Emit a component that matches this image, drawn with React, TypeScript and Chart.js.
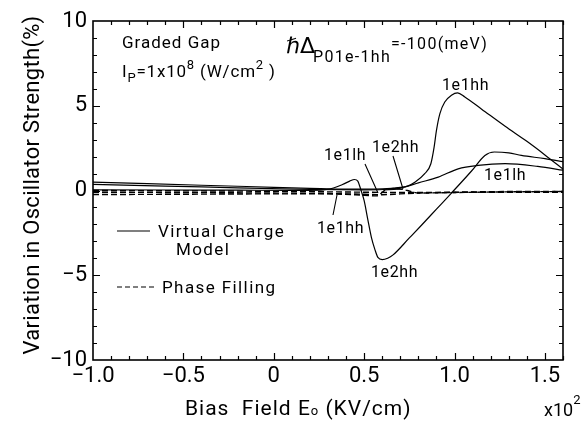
import React, { useEffect, useRef } from "react";
import { Chart, registerables } from "chart.js";

Chart.register(...registerables);

const FONT = 'Roboto, "DejaVu Sans", sans-serif';
const SYM_FONT = '"DejaVu Sans", sans-serif';

// Axis ticks
const xTickValues = [-1.0, -0.5, 0, 0.5, 1.0, 1.5];
const xTickLabels = ["−1.0", "−0.5", "0", "0.5", "1.0", "1.5"];
const yTickValues = [-10, -5, 0, 5, 10];
const yTickLabels = ["−10", "−5", "0", "5", "10"];

// Virtual Charge Model (solid)
const vc1e1hhX = [-1.0, -0.7, -0.4, -0.1, 0.2, 0.4, 0.6, 0.7, 0.74, 0.78, 0.835, 0.869, 0.887, 0.9, 0.919, 0.946, 0.983, 1.017, 1.057, 1.15, 1.28, 1.4, 1.5, 1.61];
const vc1e1hhY = [0.49, 0.4, 0.31, 0.22, 0.13, 0.08, 0.1, 0.18, 0.26, 0.49, 0.99, 1.58, 2.56, 3.55, 4.54, 5.22, 5.62, 5.76, 5.52, 4.8, 3.79, 2.9, 2.1, 1.18];

const vc1e2hhX = [-1.0, -0.6, -0.2, 0.1, 0.26, 0.33, 0.38, 0.42, 0.446, 0.465, 0.48, 0.5, 0.52, 0.54, 0.56, 0.576, 0.6, 0.63, 0.66, 0.75, 0.817, 0.9, 0.983, 1.094, 1.168, 1.22, 1.3, 1.37, 1.5, 1.61];
const vc1e2hhY = [0.04, 0.03, 0.02, 0.01, 0.02, 0.15, 0.35, 0.55, 0.65, 0.55, 0.1, -0.6, -1.7, -2.76, -3.5, -3.95, -4.08, -4.0, -3.8, -2.8, -2.05, -1.1, -0.15, 1.15, 2.07, 2.27, 2.22, 2.07, 1.88, 1.68];

const vc1e1lhX = [-1.0, -0.6, -0.2, 0.2, 0.5, 0.605, 0.72, 0.8, 0.91, 1.02, 1.13, 1.28, 1.46, 1.61];
const vc1e1lhY = [0.36, 0.26, 0.16, 0.06, 0.04, 0.06, 0.2, 0.45, 0.79, 1.28, 1.48, 1.58, 1.42, 1.18];

// Phase Filling (dashed)
const pf1e1hhX = [-1.0, -0.5, 0, 0.3, 0.5, 0.6, 0.7, 0.8, 1.0, 1.3, 1.61];
const pf1e1hhY = [-0.1, -0.12, -0.15, -0.18, -0.22, -0.25, -0.2, -0.15, -0.1, -0.06, -0.05];

const pf1e2hhX = [-1.0, -0.5, 0, 0.3, 0.5, 0.57, 0.62, 0.68, 0.74, 0.8, 1.0, 1.3, 1.61];
const pf1e2hhY = [-0.24, -0.22, -0.2, -0.2, -0.28, -0.32, 0.05, 0.12, 0.0, -0.15, -0.12, -0.08, -0.06];

const pf1e1lhX = [-1.0, -0.5, 0, 0.5, 0.7, 0.9, 1.2, 1.61];
const pf1e1lhY = [0.0, -0.02, -0.05, -0.1, -0.12, -0.12, -0.1, -0.1];

const pts = (xs: number[], ys: number[]) => xs.map((x, i) => ({ x, y: ys[i] }));

const solid = (label: string, xs: number[], ys: number[]) => ({
  label,
  data: pts(xs, ys),
  borderColor: "#000",
  borderWidth: 1.2,
  pointRadius: 0,
  fill: false,
  cubicInterpolationMode: "monotone" as const,
});
const dashed = (label: string, xs: number[], ys: number[]) => ({
  ...solid(label, xs, ys),
  borderDash: [6, 3],
  borderWidth: 1.4,
});

type Run = [string, number, number, string?];
function drawRuns(ctx: CanvasRenderingContext2D, x: number, y: number, runs: Run[], spacing = 0) {
  let cx = x;
  for (const [t, size, dy, fam] of runs) {
    ctx.font = `${size}px ${fam || FONT}`;
    (ctx as any).letterSpacing = `${spacing}px`;
    ctx.fillText(t, cx, y + dy);
    cx += ctx.measureText(t).width;
  }
  (ctx as any).letterSpacing = "0px";
}

const decorations = {
  id: "decorations",
  afterDraw(chart: any) {
    const { ctx, chartArea: a, scales } = chart;
    const xs = scales.x;
    const ys = scales.y;
    ctx.save();
    ctx.strokeStyle = "#000";
    ctx.fillStyle = "#000";
    ctx.lineWidth = 1.6;
    ctx.strokeRect(a.left, a.top, a.right - a.left, a.bottom - a.top);

    // inward ticks
    ctx.lineWidth = 1.2;
    ctx.beginPath();
    for (let i = -9; i <= 16; i++) {
      const px = Math.round(xs.getPixelForValue(i / 10)) + 0.5;
      const len = i % 5 === 0 ? 7 : 4;
      ctx.moveTo(px, a.bottom);
      ctx.lineTo(px, a.bottom - len);
      ctx.moveTo(px, a.top);
      ctx.lineTo(px, a.top + len);
    }
    for (let j = -9; j <= 9; j++) {
      const py = Math.round(ys.getPixelForValue(j)) + 0.5;
      const len = j % 5 === 0 ? 7 : 4;
      ctx.moveTo(a.left, py);
      ctx.lineTo(a.left + len, py);
      ctx.moveTo(a.right, py);
      ctx.lineTo(a.right - len, py);
    }
    ctx.stroke();

    ctx.textAlign = "left";
    ctx.textBaseline = "alphabetic";

    // annotations
    drawRuns(ctx, 122, 48, [["Graded Gap", 17, 0]], 1);
    drawRuns(ctx, 122, 77, [["I", 17, 0], ["P", 13, 5], ["=1x10", 17, 0], ["8", 13, -8], [" (W/cm", 17, 0], ["2", 13, -8], [" )", 17, 0]], 0.8);
    drawRuns(ctx, 286, 53, [["ℏΔ", 22, 0, SYM_FONT]], 0);
    drawRuns(ctx, 313, 62, [["P01e-1hh", 16, 0], ["=-100(meV)", 16, -13]], 1.3);

    // curve labels
    const lab = (t: string, x: number, y: number) => drawRuns(ctx, x, y, [[t, 16, 0]], 0.6);
    lab("1e1hh", 442, 90);
    lab("1e1lh", 324, 160);
    lab("1e2hh", 372, 152);
    lab("1e1hh", 317, 233);
    lab("1e2hh", 371, 277);
    lab("1e1lh", 484, 180);

    ctx.lineWidth = 1.1;
    ctx.beginPath();
    ctx.moveTo(365, 164); ctx.lineTo(378, 193);
    ctx.moveTo(393, 156); ctx.lineTo(403, 189);
    ctx.moveTo(403, 189); ctx.lineTo(384, 190);
    ctx.moveTo(337, 195); ctx.lineTo(333, 215);
    ctx.stroke();

    // legend
    ctx.lineWidth = 1.2;
    ctx.beginPath();
    ctx.moveTo(117, 231); ctx.lineTo(150, 231);
    ctx.stroke();
    ctx.setLineDash([5, 3]);
    ctx.beginPath();
    ctx.moveTo(117, 287); ctx.lineTo(154, 287);
    ctx.stroke();
    ctx.setLineDash([]);
    drawRuns(ctx, 158, 237, [["Virtual Charge", 17, 0]], 1.4);
    drawRuns(ctx, 176, 255, [["Model", 17, 0]], 1.4);
    drawRuns(ctx, 162, 293, [["Phase Filling", 17, 0]], 1.4);

    // axis titles
    drawRuns(ctx, 185, 415, [["Bias  Field E", 21, 0], ["o", 13, 0], [" (KV/cm)", 21, 0]], 1);
    drawRuns(ctx, 544, 416, [["x10", 18, 0], ["2", 13, -12]], 0);

    ctx.save();
    ctx.translate(33, 185);
    ctx.rotate(-Math.PI / 2);
    ctx.textAlign = "center";
    ctx.textBaseline = "middle";
    ctx.font = `22px ${FONT}`;
    (ctx as any).letterSpacing = "0.3px";
    ctx.fillText("Variation in Oscillator Strength(%)", 0, 0);
    ctx.restore();

    ctx.restore();
  },
};

export default function App() {
  const ref = useRef<HTMLCanvasElement>(null);
  useEffect(() => {
    const chart = new Chart(ref.current!, {
      type: "line",
      data: {
        datasets: [
          solid("1e1hh (Virtual Charge)", vc1e1hhX, vc1e1hhY),
          solid("1e2hh (Virtual Charge)", vc1e2hhX, vc1e2hhY),
          solid("1e1lh (Virtual Charge)", vc1e1lhX, vc1e1lhY),
          dashed("1e1hh (Phase Filling)", pf1e1hhX, pf1e1hhY),
          dashed("1e2hh (Phase Filling)", pf1e2hhX, pf1e2hhY),
          dashed("1e1lh (Phase Filling)", pf1e1lhX, pf1e1lhY),
        ],
      },
      options: {
        animation: false,
        responsive: false,
        devicePixelRatio: 1,
        layout: { padding: { left: 0, top: 21, right: 21, bottom: 0 } },
        plugins: { legend: { display: false }, tooltip: { enabled: false } },
        scales: {
          x: {
            type: "linear",
            min: -1,
            max: 1.6,
            grid: { display: false, drawTicks: false },
            border: { display: false },
            afterBuildTicks: (s: any) => {
              s.ticks = xTickValues.map((v) => ({ value: v }));
            },
            afterFit: (s: any) => {
              s.height = 64;
            },
            ticks: {
              color: "#000",
              font: { family: FONT, size: 22 },
              padding: 3,
              maxRotation: 0,
              autoSkip: false,
              callback: (v: any) => {
                const i = xTickValues.findIndex((t) => Math.abs(t - v) < 1e-6);
                return i >= 0 ? xTickLabels[i] : "";
              },
            },
          },
          y: {
            type: "linear",
            min: -10,
            max: 10,
            grid: { display: false, drawTicks: false },
            border: { display: false },
            afterBuildTicks: (s: any) => {
              s.ticks = yTickValues.map((v) => ({ value: v }));
            },
            afterFit: (s: any) => {
              s.width = 93;
            },
            ticks: {
              color: "#000",
              font: { family: FONT, size: 22 },
              padding: 6,
              autoSkip: false,
              callback: (v: any) => {
                const i = yTickValues.findIndex((t) => Math.abs(t - v) < 1e-6);
                return i >= 0 ? yTickLabels[i] : "";
              },
            },
          },
        },
      },
      plugins: [decorations],
    } as any);
    return () => chart.destroy();
  }, []);
  return (
    <div style={{ position: "fixed", left: 0, top: 0, width: 584, height: 424, background: "#fff" }}>
      <canvas ref={ref} width={584} height={424} style={{ display: "block", width: 584, height: 424 }} />
    </div>
  );
}
